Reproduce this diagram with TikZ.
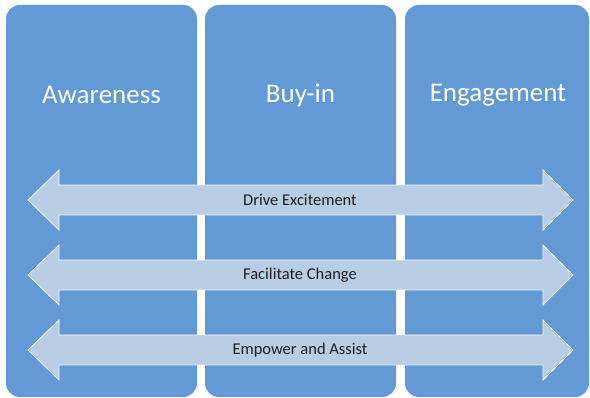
\documentclass[tikz,border=0pt]{standalone}
\usepackage{fontspec}
\setmainfont{Carlito}
\usetikzlibrary{shapes.arrows}
\definecolor{colblue}{RGB}{99,153,212}
\definecolor{arrowblue}{RGB}{185,205,229}
\definecolor{labelgray}{RGB}{30,30,30}
\begin{document}
\begin{tikzpicture}[x=1pt,y=-1pt,
  column/.style={fill=colblue,draw=none,rounded corners=14pt},
  coltitle/.style={text=white,font=\fontsize{27}{31}\selectfont,anchor=center,inner sep=0pt},
  dblarrow/.style={fill=arrowblue,draw=white!85!arrowblue,line width=0.8pt,line join=miter},
  arrowlabel/.style={text=labelgray,font=\fontsize{16.5}{19}\selectfont,anchor=center,inner sep=0pt}]
\useasboundingbox (0,0) rectangle (590,398);
\fill[white] (0,0) rectangle (590,398);
\fill[column] (6,5) rectangle (197,397);
\fill[column] (205,5) rectangle (396,397);
\fill[column] (405,5) rectangle (589,397);
\node[coltitle] (t1) at (101.5,95) {Awareness};
\node[coltitle] (t2) at (300.5,95) {Buy-in};
\node[coltitle] (t3) at (498,95) {Engagement};
\foreach \cy/\nm/\txt in {200/a1/Drive Excitement,275/a2/Facilitate Change,350/a3/Empower and Assist}{
  \draw[dblarrow] (28,\cy) -- (59,\cy-30) -- (59,\cy-15) -- (543,\cy-15) -- (543,\cy-30)
    -- (573,\cy) -- (543,\cy+30) -- (543,\cy+15) -- (59,\cy+15) -- (59,\cy+30) -- cycle;
  \node[arrowlabel] (\nm) at (300,\cy) {\txt};
}
\end{tikzpicture}
\end{document}
